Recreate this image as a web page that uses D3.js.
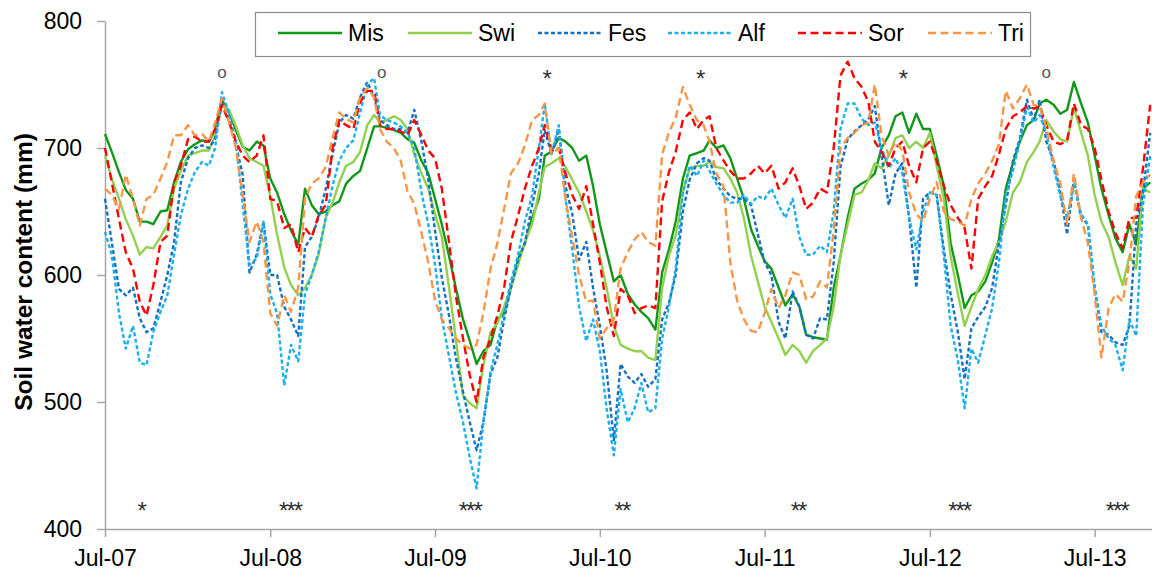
<!DOCTYPE html>
<html><head><meta charset="utf-8">
<script src="https://cdn.jsdelivr.net/npm/d3@7"></script>
<style>
body{margin:0;background:#fff;}
svg{display:block;font-family:"Liberation Sans",Arial,sans-serif;}
</style>
</head><body>
<svg id="chart" width="1152" height="575"></svg>
<script>
// ---- data (semi-monthly samples: 1st and 16th of each month, from Jul 2007) ----
const firstSample = "2007-07-01";
const seriesNames = ["Mis","Swi","Fes","Alf","Sor","Tri"];
const mis = [711,697,681,667,660,642,642,640,650,651,673,689,699,703,706,705,715,738,728,714,701,698,705,702,
676,665,648,635,624,668,655,648,650,655,658,672,678,682,700,717,717,716,714,712,707,704,690,680,
660,640,615,590,565,548,530,540,545,565,570,590,612,625,645,660,694,697,708,705,700,690,694,670,
640,618,595,600,585,577,571,566,557,602,620,642,676,694,696,698,706,700,702,692,676,660,636,623,
611,605,590,576,585,575,553,551,550,549,590,615,645,668,672,675,680,700,710,725,728,712,727,715,
715,694,670,625,600,574,584,587,595,610,628,668,688,705,718,722,735,738,734,727,730,752,735,720,
694,668,647,629,618,640,624,668,673];
const swi = [694,676,660,644,631,616,622,621,630,639,668,682,694,696,698,698,710,734,730,717,702,692,689,686,
662,632,606,592,584,590,600,616,645,657,673,686,689,697,718,726,720,722,725,722,715,695,680,668,
648,630,590,550,505,499,495,529,555,562,575,590,608,626,640,665,685,688,692,685,675,665,650,635,
615,590,560,545,542,540,540,535,533,590,615,631,665,684,686,686,689,685,684,676,665,645,615,595,
575,563,550,537,545,540,531,540,545,550,575,615,640,663,665,675,688,684,694,708,710,700,705,700,
712,686,660,615,585,560,575,589,600,615,626,642,665,673,689,697,705,722,713,707,705,732,712,694,
663,642,630,610,592,615,605,668,665];
const fes = [660,626,589,584,590,566,555,558,579,600,626,673,692,700,702,700,707,736,723,702,679,602,616,642,
600,600,575,565,552,622,630,645,668,695,720,726,723,740,752,740,722,718,715,715,712,730,705,675,
635,598,568,535,508,484,462,484,522,535,565,590,612,625,655,680,714,695,715,670,648,612,626,590,
560,525,470,530,520,515,522,512,518,565,578,600,650,675,688,692,690,675,668,662,660,660,655,632,
610,600,563,550,587,575,553,550,566,565,610,685,707,713,718,723,733,694,655,680,688,645,590,660,
665,663,620,585,555,518,558,567,575,590,625,655,690,707,738,722,738,705,690,665,632,675,645,640,
590,555,553,547,545,560,640,665,712];
const alf = [634,616,570,542,560,531,529,555,571,584,616,647,668,681,689,686,700,744,727,705,655,608,613,642,
585,570,513,545,532,585,600,618,645,670,690,700,706,728,750,755,726,722,720,717,712,700,665,640,
608,566,536,508,484,456,432,484,524,545,570,595,616,642,663,700,735,695,718,660,620,575,548,565,
540,495,458,510,484,495,515,492,495,550,575,605,665,686,678,690,682,672,663,657,657,663,656,662,
660,668,655,645,660,630,616,616,623,618,650,715,735,735,723,718,720,700,684,692,680,645,620,650,
665,663,615,560,533,495,542,531,553,574,610,663,682,705,732,720,726,712,685,662,645,672,648,640,
590,560,550,545,525,565,552,655,694];
const sor = [700,673,644,618,605,579,568,592,626,631,673,686,707,709,705,705,715,734,720,705,694,689,694,710,
660,658,637,640,618,637,630,647,655,700,722,718,715,736,745,745,718,715,715,713,710,722,710,698,
692,668,626,584,550,521,500,535,550,568,590,626,647,668,686,700,718,698,700,680,663,652,670,640,
610,575,552,589,584,570,574,576,574,658,681,697,722,728,715,722,725,700,690,682,676,676,680,686,
680,686,668,673,684,670,652,657,668,665,700,757,768,755,748,736,705,697,686,700,705,686,673,700,
705,690,670,655,645,637,605,660,670,678,695,715,725,728,733,731,733,718,705,703,706,735,718,715,
700,675,650,633,621,645,645,684,734];
const tri = [668,663,652,679,660,639,660,663,676,689,710,710,718,710,711,705,720,739,720,700,663,626,642,626,
570,560,584,571,590,660,672,676,685,708,728,723,720,740,747,740,715,705,700,690,666,656,633,610,
580,565,558,550,545,542,545,570,605,625,652,680,688,702,722,726,735,695,700,660,630,600,579,580,
550,558,565,605,618,628,634,626,623,695,712,724,748,734,722,718,705,680,670,610,580,565,556,555,
570,589,574,584,602,600,581,583,595,590,635,700,708,712,718,720,750,710,694,705,698,665,648,642,
660,673,650,644,642,639,660,672,680,690,703,745,731,739,750,734,733,716,690,672,640,680,645,625,
585,535,574,585,579,610,662,673,679];

const yTicks = [400,500,600,700,800];
const xTickDates = ["2007-07-01","2008-07-01","2009-07-01","2010-07-01","2011-07-01","2012-07-01","2013-07-01"];
const xTickLabels = ["Jul-07","Jul-08","Jul-09","Jul-10","Jul-11","Jul-12","Jul-13"];
const axisEndDate = "2013-11-05";

// significance annotations
const topMarkDates = ["2008-03-16","2009-03-05","2010-03-04","2011-02-07","2012-05-01","2013-03-16"];
const topMarkSymbols = ["o","o","*","*","*","o"];
const topMarkLevel = 759;
const bottomMarkDates = ["2007-09-19","2008-08-14","2009-09-16","2010-08-19","2011-09-13","2012-09-04","2013-08-19"];
const bottomMarkSymbols = ["*","***","***","**","**","***","***"];
const bottomMarkLevel = 419;

// ---- styles ----
const colors = {Mis:"#11981a", Swi:"#92d050", Fes:"#1570c0", Alf:"#1ab0ee", Sor:"#ff0000", Tri:"#f79646"};
const dashes = {Mis:null, Swi:null, Fes:"4,2.5", Alf:"4,2.5", Sor:"8,4.5", Tri:"8,4.5"};
const valuesByName = {Mis:mis, Swi:swi, Fes:fes, Alf:alf, Sor:sor, Tri:tri};

const parse = d3.timeParse("%Y-%m-%d");
const start = parse(firstSample);
const sampleDates = d3.range(mis.length).map(i => {
  const m = d3.timeMonth.offset(start, Math.floor(i/2));
  return i % 2 ? d3.timeDay.offset(m, 15) : m;
});

const svg = d3.select("#chart");
const plotLeft = 105, plotRight = 1152, plotTop = 21, plotBottom = 529;
const x = d3.scaleTime().domain([start, parse(axisEndDate)]).range([plotLeft, plotRight]);
const y = d3.scaleLinear().domain([400, 800]).range([plotBottom, plotTop]);

// axes
const axisColor = "#a6a6a6";
const gy = svg.append("g").attr("transform", `translate(${plotLeft},0)`)
  .call(d3.axisLeft(y).tickValues(yTicks).tickSize(8).tickSizeOuter(0).tickPadding(15).tickFormat(d3.format("d")));
const gx = svg.append("g").attr("transform", `translate(0,${plotBottom})`)
  .call(d3.axisBottom(x).tickValues(xTickDates.map(parse)).tickSize(8).tickSizeOuter(0).tickPadding(13)
    .tickFormat((d,i) => xTickLabels[i]));
[gx, gy].forEach(g => {
  g.select(".domain").attr("stroke", axisColor).attr("stroke-width", 1.5);
  g.selectAll(".tick line").attr("stroke", axisColor).attr("stroke-width", 1.5);
  g.selectAll(".tick text").attr("fill", "#000").style("font-size", "23px").style("font-family", '"Liberation Sans",Arial,sans-serif');
});

// y axis title
svg.append("text")
  .attr("transform", "translate(32,272) rotate(-90)")
  .attr("text-anchor", "middle")
  .style("font-size", "24.5px").style("font-weight", "bold").attr("fill", "#000")
  .text("Soil water content (mm)");

// lines
const line = d3.line().x((d,i) => x(sampleDates[i])).y(d => y(d));
seriesNames.forEach(name => {
  svg.append("path")
    .datum(valuesByName[name])
    .attr("fill", "none")
    .attr("stroke", colors[name])
    .attr("stroke-width", 2.4)
    .attr("stroke-dasharray", dashes[name])
    .attr("stroke-linejoin", "round")
    .attr("d", line);
});

// annotations
function marks(dates, syms, level) {
  svg.append("g").selectAll("text").data(dates).join("text")
    .attr("x", d => x(parse(d)))
    .attr("y", y(level))
    .attr("text-anchor", "middle")
    .attr("dy", (d,i) => syms[i] === "o" ? "0.27em" : "0.6em")
    .attr("fill", (d,i) => syms[i] === "o" ? "#555" : "#333")
    .style("font-size", (d,i) => syms[i] === "o" ? "17px" : "24px")
    .style("letter-spacing", (d,i) => syms[i] === "o" ? "0px" : "-2px")
    .text((d,i) => syms[i]);
}
marks(topMarkDates, topMarkSymbols, topMarkLevel);
marks(bottomMarkDates, bottomMarkSymbols, bottomMarkLevel);

// legend
const legend = svg.append("g");
legend.append("rect").attr("x", 255.5).attr("y", 12.5).attr("width", 775).attr("height", 44)
  .attr("fill", "#fff").attr("stroke", "#8c8c8c").attr("stroke-width", 1.2);
seriesNames.forEach((name, i) => {
  const lx = 278 + i * 130;
  legend.append("line").attr("x1", lx).attr("x2", lx + 64).attr("y1", 33).attr("y2", 33)
    .attr("stroke", colors[name]).attr("stroke-width", 2.5).attr("stroke-dasharray", dashes[name]);
  legend.append("text").attr("x", lx + 70).attr("y", 33).attr("dy", "0.35em")
    .style("font-size", "23px").attr("fill", "#000").text(name);
});
</script>
</body></html>
